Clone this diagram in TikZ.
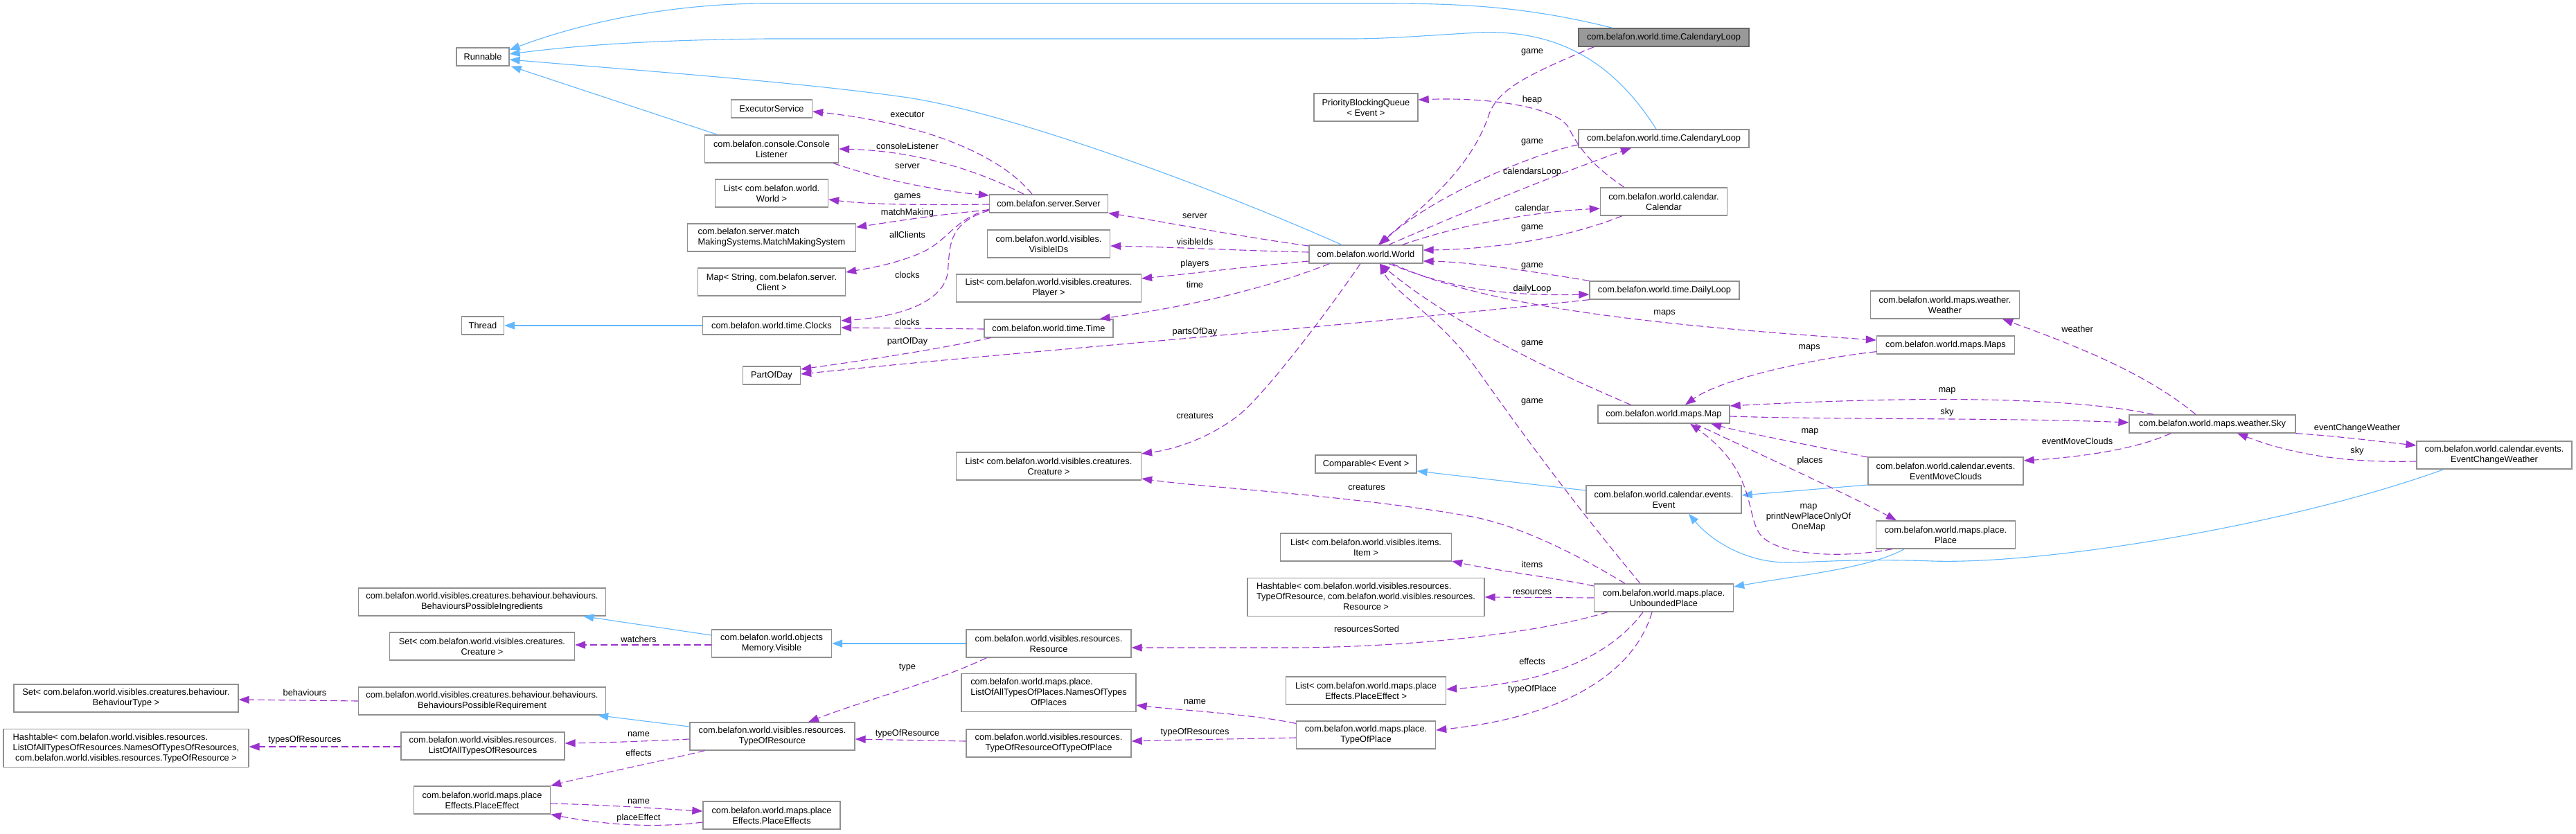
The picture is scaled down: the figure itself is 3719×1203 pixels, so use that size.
\documentclass[tikz,border=0pt]{standalone}
\usepackage{fontspec}
\setmainfont{Liberation Sans}
\usetikzlibrary{arrows.meta,calc}
\definecolor{eblue}{HTML}{63B8FF}
\definecolor{epurple}{HTML}{9A32CD}
\definecolor{bgray}{HTML}{909090}
\definecolor{fgray}{HTML}{999999}
\definecolor{dgray}{HTML}{666666}
\begin{document}
\begin{tikzpicture}[x=1pt,y=-1pt,
  font=\fontsize{12.8}{15}\selectfont,
  cls/.style={draw=bgray, line width=1.3pt, fill=white, inner sep=0pt, align=center, minimum height=26pt},
  two/.style={minimum height=40pt},
  three/.style={minimum height=55pt},
  inh/.style={draw=eblue, line width=1.1pt, -{Triangle[length=15pt,width=11pt]}},
  use/.style={draw=epurple, line width=1.1pt, dash pattern=on 10pt off 5pt, -{Triangle[length=15pt,width=11pt]}},
  lbl/.style={inner sep=0pt, align=center}
]
\fill[white] (0,0) rectangle (3719,1203);
\useasboundingbox (0,0) rectangle (3719,1203);

% ---------- classes ----------
\node[cls,minimum width=76pt] (runnable) at (697,82) {Runnable};
\node[cls,minimum width=61pt] (thread) at (697,470) {Thread};
\node[cls,minimum width=117pt] (executor) at (1114,157) {ExecutorService};
\node[cls,two,minimum width=193pt] (console) at (1114,215) {com.belafon.console.Console\\Listener};
\node[cls,two,minimum width=163pt] (listworld) at (1114,279) {List< com.belafon.world.\\World >};
\node[cls,two,minimum width=243pt] (matchmaking) at (1114,343) {\begin{tabular}{@{}l@{}}com.belafon.server.match\\MakingSystems.MatchMakingSystem\end{tabular}};
\node[cls,two,minimum width=213pt] (mapclient) at (1114,407) {Map< String, com.belafon.server.\\Client >};
\node[cls,minimum width=199pt] (clocks) at (1114,470) {com.belafon.world.time.Clocks};
\node[cls,minimum width=83pt] (partofday) at (1114,542) {PartOfDay};
\node[cls,minimum width=171pt] (server) at (1514,294) {com.belafon.server.Server};
\node[cls,two,minimum width=177pt] (visibleids) at (1514,352) {com.belafon.world.visibles.\\VisibleIDs};
\node[cls,two,minimum width=267pt] (listplayer) at (1514,416) {List< com.belafon.world.visibles.creatures.\\Player >};
\node[cls,minimum width=186pt] (time) at (1514,474) {com.belafon.world.time.Time};
\node[cls,two,minimum width=150pt] (pbq) at (1972,155) {PriorityBlockingQueue\\< Event >};
\node[cls,minimum width=164pt] (world) at (1972,367) {com.belafon.world.World};
\node[cls,two,minimum width=267pt] (listcreature) at (1514,673) {List< com.belafon.world.visibles.creatures.\\Creature >};
\node[cls,minimum width=146pt] (comparable) at (1972,670) {Comparable< Event >};
\node[cls,two,minimum width=247pt] (listitem) at (1972,790) {List< com.belafon.world.visibles.items.\\Item >};
\node[cls,three,minimum width=342pt] (hashres) at (1972,862) {\begin{tabular}{@{}l@{}}Hashtable< com.belafon.world.visibles.resources.\\TypeOfResource, com.belafon.world.visibles.resources.\\\multicolumn{1}{@{}c@{}}{Resource >}\end{tabular}};
\node[cls,two,minimum width=231pt] (listeffect) at (1972,997) {List< com.belafon.world.maps.place\\Effects.PlaceEffect >};
\node[cls,two,minimum width=201pt] (typeofplace) at (1972,1061) {com.belafon.world.maps.place.\\TypeOfPlace};
\node[cls,minimum width=246pt,fill=fgray,draw=dgray] (calloopA) at (2402,54) {com.belafon.world.time.CalendaryLoop};
\node[cls,minimum width=246pt] (calloopB) at (2402,200) {com.belafon.world.time.CalendaryLoop};
\node[cls,two,minimum width=183pt] (calendar) at (2402,291) {com.belafon.world.calendar.\\Calendar};
\node[cls,minimum width=216pt] (dailyloop) at (2403,419) {com.belafon.world.time.DailyLoop};
\node[cls,minimum width=190pt] (map) at (2402,598) {com.belafon.world.maps.Map};
\node[cls,two,minimum width=224pt] (event) at (2402,721) {com.belafon.world.calendar.events.\\Event};
\node[cls,two,minimum width=201pt] (unbounded) at (2402,863) {com.belafon.world.maps.place.\\UnboundedPlace};
\node[cls,two,minimum width=215pt] (weather) at (2808,440) {com.belafon.world.maps.weather.\\Weather};
\node[cls,minimum width=199pt] (maps) at (2809,498) {com.belafon.world.maps.Maps};
\node[cls,two,minimum width=224pt] (movecloud) at (2809,680) {com.belafon.world.calendar.events.\\EventMoveClouds};
\node[cls,two,minimum width=201pt] (place) at (2809,772) {com.belafon.world.maps.place.\\Place};
\node[cls,minimum width=240pt] (sky) at (3194,612) {com.belafon.world.maps.weather.Sky};
\node[cls,two,minimum width=224pt] (changeweather) at (3601,657) {com.belafon.world.calendar.events.\\EventChangeWeather};
\node[cls,two,minimum width=357pt] (ingredients) at (696,869) {com.belafon.world.visibles.creatures.behaviour.behaviours.\\BehavioursPossibleIngredients};
\node[cls,two,minimum width=267pt] (setcreature) at (696,933) {Set< com.belafon.world.visibles.creatures.\\Creature >};
\node[cls,two,minimum width=324pt] (setbehaviour) at (182,1008) {Set< com.belafon.world.visibles.creatures.behaviour.\\BehaviourType >};
\node[cls,two,minimum width=357pt] (requirement) at (696,1012) {com.belafon.world.visibles.creatures.behaviour.behaviours.\\BehavioursPossibleRequirement};
\node[cls,three,minimum width=354pt] (hashlist) at (182,1080) {\begin{tabular}{@{}l@{}}Hashtable< com.belafon.world.visibles.resources.\\ListOfAllTypesOfResources.NamesOfTypesOfResources,\\\multicolumn{1}{@{}c@{}}{com.belafon.world.visibles.resources.TypeOfResource >}\end{tabular}};
\node[cls,two,minimum width=236pt] (listalltypes) at (697,1077) {com.belafon.world.visibles.resources.\\ListOfAllTypesOfResources};
\node[cls,two,minimum width=197pt] (placeeffect) at (696,1155) {com.belafon.world.maps.place\\Effects.PlaceEffect};
\node[cls,two,minimum width=173pt] (visible) at (1114,929) {com.belafon.world.objects\\Memory.Visible};
\node[cls,two,minimum width=238pt] (typeofresource) at (1115,1063) {com.belafon.world.visibles.resources.\\TypeOfResource};
\node[cls,two,minimum width=198pt] (placeeffects) at (1114,1177) {com.belafon.world.maps.place\\Effects.PlaceEffects};
\node[cls,two,minimum width=238pt] (resource) at (1514,929) {com.belafon.world.visibles.resources.\\Resource};
\node[cls,three,minimum width=252pt] (namesplaces) at (1514,1000) {\begin{tabular}{@{}l@{}}com.belafon.world.maps.place.\\ListOfAllTypesOfPlaces.NamesOfTypes\\\multicolumn{1}{@{}c@{}}{OfPlaces}\end{tabular}};
\node[cls,two,minimum width=238pt] (toftop) at (1514,1073) {com.belafon.world.visibles.resources.\\TypeOfResourceOfTypeOfPlace};

% ---------- inheritance ----------
\draw[inh] ($(calloopA.north)+(-74,0)$) .. controls (2200,8) and (2100,5) .. (1996,5) -- (1108,5) .. controls (950,5) and (820,40) .. ($(runnable.east)+(0,-10)$);
\draw[inh] ($(calloopB.north)+(-11,0)$) .. controls (2330,90) and (2250,42) .. (2133,47) .. controls (2050,52) and (2000,56) .. (1950,56) -- (1108,56) .. controls (900,58) and (800,70) .. ($(runnable.east)+(0,-4)$);
\draw[inh] ($(world.north)+(-35,0)$) .. controls (1750,270) and (1450,160) .. (1304,140) .. controls (1150,118) and (900,100) .. ($(runnable.east)+(0,4)$);
\draw[inh] ($(console.north west)+(19,0)$) -- ($(runnable.south east)+(2,0)$);
\draw[inh] (clocks.west) -- (thread.east);
\draw[inh] ($(event.west)+(0,-13)$) -- ($(comparable.east)+(0,10)$);
\draw[inh] ($(movecloud.west)+(0,20)$) -- ($(event.east)+(0,-6)$);
\draw[inh] ($(changeweather.south)+(-73,0)$) .. controls (3300,760) and (2950,815) .. (2790,810) .. controls (2680,806) and (2620,812) .. (2580,812) .. controls (2520,812) and (2470,780) .. ($(event.south)+(36,0)$);
\draw[inh] ($(place.south)+(-60,0)$) .. controls (2700,820) and (2600,830) .. ($(unbounded.east)+(0,-16)$);
\draw[inh] ($(visible.west)+(0,-12)$) -- ($(ingredients.south east)+(-33,0)$);
\draw[inh] (resource.west) -- (visible.east);
\draw[inh] ($(typeofresource.west)+(0,-14)$) -- ($(requirement.south east)+(-12,0)$);

% ---------- usage ----------
\draw[use] ($(server.north)+(-24,0)$) .. controls (1450,230) and (1350,180) .. ($(executor.east)+(0,4)$);
\draw[use] ($(server.north)+(-36,0)$) .. controls (1420,250) and (1330,218) .. (console.east);
\draw[use] ($(console.south east)+(-8,0)$) .. controls (1280,262) and (1360,276) .. ($(server.west)+(0,-12)$);
\draw[use] ($(server.west)+(0,1)$) .. controls (1350,296) and (1260,296) .. ($(listworld.east)+(0,9)$);
\draw[use] ($(server.west)+(0,9)$) .. controls (1350,310) and (1290,320) .. ($(matchmaking.east)+(0,-15)$);
\draw[use] ($(server.west)+(0,8)$) .. controls (1375,318) and (1372,345) .. (1330,365) .. controls (1290,382) and (1250,388) .. ($(mapclient.east)+(0,-14)$);
\draw[use] ($(server.west)+(0,10)$) .. controls (1365,322) and (1372,360) .. (1368,395) .. controls (1360,440) and (1290,458) .. ($(clocks.east)+(0,-7)$);
\draw[use] ($(time.west)+(0,1)$) -- ($(clocks.east)+(0,3)$);
\draw[use] ($(time.south west)+(10,0)$) .. controls (1350,505) and (1250,520) .. ($(partofday.east)+(0,-9)$);
\draw[use] (dailyloop.south west) .. controls (1900,475) and (1500,505) .. ($(partofday.east)+(0,-2)$);
\draw[use] ($(world.west)+(0,-12)$) .. controls (1780,340) and (1680,320) .. (server.south east);
\draw[use] ($(world.west)+(0,-3)$) .. controls (1800,362) and (1700,357) .. ($(visibleids.east)+(0,3)$);
\draw[use] ($(world.west)+(0,10)$) .. controls (1800,385) and (1720,395) .. ($(listplayer.east)+(0,-14)$);
\draw[use] ($(world.south west)+(30,0)$) .. controls (1820,420) and (1700,445) .. ($(time.north east)+(-20,0)$);
\draw[use] ($(world.south)+(-8,0)$) .. controls (1920,445) and (1830,565) .. (1790,598) .. controls (1750,630) and (1700,648) .. ($(listcreature.east)+(0,-18)$);
\draw[use] ($(calloopA.south west)+(23,0)$) .. controls (2200,110) and (2160,130) .. (2148,170) .. controls (2120,250) and (2040,310) .. ($(world.north)+(18,0)$);
\draw[use] ($(calloopB.west)+(0,9)$) .. controls (2200,225) and (2060,290) .. ($(world.north)+(20,0)$);
\draw[use] ($(world.north)+(33,0)$) .. controls (2150,290) and (2280,240) .. ($(calloopB.south)+(-47,0)$);
\draw[use] ($(calendar.north west)+(35,0)$) .. controls (2300,240) and (2280,215) .. (2265,185) .. controls (2250,155) and (2150,140) .. ($(pbq.east)+(0,-11)$);
\draw[use] ($(world.north east)+(-30,0)$) .. controls (2120,320) and (2230,305) .. ($(calendar.west)+(0,10)$);
\draw[use] ($(calendar.south west)+(32,0)$) .. controls (2260,345) and (2150,360) .. ($(world.east)+(0,-6)$);
\draw[use] (dailyloop.north west) .. controls (2200,390) and (2120,378) .. ($(world.east)+(0,10)$);
\draw[use] ($(world.south)+(33,0)$) .. controls (2080,410) and (2150,428) .. ($(dailyloop.west)+(0,6)$);
\draw[use] ($(world.south)+(38,0)$) .. controls (2150,445) and (2400,470) .. ($(maps.west)+(0,-7)$);
\draw[use] ($(maps.south west)+(0,-4)$) .. controls (2600,520) and (2480,550) .. ($(map.north)+(31,0)$);
\draw[use] ($(map.north west)+(48,0)$) .. controls (2250,540) and (2100,470) .. ($(world.south)+(20,0)$);
\draw[use] ($(unbounded.north)+(-34,0)$) .. controls (2250,700) and (2180,600) .. (2130,530) .. controls (2080,460) and (2010,420) .. ($(world.south)+(20,0)$);
\draw[use] ($(unbounded.north)+(-56,0)$) .. controls (2260,790) and (2180,755) .. (2120,745) .. controls (1950,715) and (1750,705) .. ($(listcreature.east)+(0,18)$);
\draw[use] ($(unbounded.west)+(0,-17)$) .. controls (2250,835) and (2150,822) .. ($(listitem.east)+(0,20)$);
\draw[use] (unbounded.west) -- (hashres.east);
\draw[use] ($(unbounded.south west)+(20,0)$) .. controls (2200,920) and (2000,935) .. (1860,935) -- ($(resource.east)+(0,6)$);
\draw[use] ($(unbounded.south)+(-30,0)$) .. controls (2330,940) and (2250,985) .. ($(listeffect.east)+(0,-2)$);
\draw[use] ($(unbounded.south)+(-17,0)$) .. controls (2360,970) and (2260,1035) .. ($(typeofplace.east)+(0,-7)$);
\draw[use] ($(sky.north)+(-24,0)$) .. controls (3100,540) and (3000,500) .. ($(weather.south)+(83,0)$);
\draw[use] ($(sky.north west)+(36,0)$) .. controls (3000,575) and (2800,570) .. ($(map.east)+(0,-12)$);
\draw[use] ($(map.east)+(0,3)$) .. controls (2650,606) and (2900,603) .. ($(sky.west)+(0,-2)$);
\draw[use] ($(sky.south)+(-60,0)$) .. controls (3080,650) and (3000,660) .. ($(movecloud.east)+(0,-15)$);
\draw[use] (sky.south east) .. controls (3380,630) and (3440,638) .. ($(changeweather.west)+(0,-14)$);
\draw[use] ($(changeweather.west)+(0,9)$) .. controls (3400,668) and (3320,660) .. ($(sky.south)+(36,0)$);
\draw[use] ($(movecloud.west)+(0,-20)$) .. controls (2600,640) and (2520,625) .. ($(map.south)+(68,0)$);
\draw[use] ($(map.south)+(45,0)$) .. controls (2550,660) and (2680,720) .. ($(place.north)+(-71,0)$);
\draw[use] ($(place.south west)+(24,0)$) .. controls (2650,808) and (2560,800) .. (2540,770) .. controls (2520,740) and (2535,680) .. ($(map.south)+(38,0)$);
\draw[use] ($(visible.west)+(0,2)$) -- ($(setcreature.east)+(0,-2)$);
\draw[use] ($(resource.south west)+(30,0)$) .. controls (1350,985) and (1250,1010) .. ($(typeofresource.north)+(52,0)$);
\draw[use] (requirement.west) -- ($(setbehaviour.east)+(0,2)$);
\draw[use] ($(typeofresource.west)+(0,4)$) .. controls (930,1070) and (880,1072) .. ($(listalltypes.east)+(0,-4)$);
\draw[use] ($(listalltypes.west)+(0,1)$) -- ($(hashlist.east)+(0,-2)$);
\draw[use] ($(typeofresource.south west)+(22,0)$) .. controls (950,1100) and (850,1120) .. (placeeffect.north east);
\draw[use] ($(placeeffect.east)+(0,5)$) .. controls (880,1162) and (960,1168) .. ($(placeeffects.west)+(0,-6)$);
\draw[use] ($(placeeffects.west)+(0,10)$) .. controls (950,1195) and (880,1192) .. (placeeffect.south east);
\draw[use] ($(toftop.west)+(0,-3)$) -- ($(typeofresource.east)+(0,4)$);
\draw[use] ($(typeofplace.north west)+(0,4)$) .. controls (1800,1030) and (1700,1025) .. ($(namesplaces.east)+(0,18)$);
\draw[use] ($(typeofplace.west)+(0,4)$) .. controls (1780,1067) and (1700,1068) .. ($(toftop.east)+(0,-3)$);

% ---------- labels ----------
\node[lbl] (L1) at (1310,165) {executor};
\node[lbl] (L2) at (1310,211) {consoleListener};
\node[lbl] (L3) at (1310,240) {server};
\node[lbl] (L4) at (1310,284) {games};
\node[lbl] (L5) at (1310,307) {matchMaking};
\node[lbl] (L6) at (1310,339) {allClients};
\node[lbl] (L7) at (1310,397) {clocks};
\node[lbl] (L8) at (1310,465) {clocks};
\node[lbl] (L9) at (1310,493) {partOfDay};
\node[lbl] (L10) at (1725,312) {server};
\node[lbl] (L11) at (1725,349) {visibleIds};
\node[lbl] (L12) at (1725,381) {players};
\node[lbl] (L13) at (1725,411) {time};
\node[lbl] (L14) at (1725,479) {partsOfDay};
\node[lbl] (L15) at (1725,600) {creatures};
\node[lbl] (L16) at (2212,75) {game};
\node[lbl] (L17) at (2212,144) {heap};
\node[lbl] (L18) at (2212,205) {game};
\node[lbl] (L19) at (2212,248) {calendarsLoop};
\node[lbl] (L20) at (2212,300) {calendar};
\node[lbl] (L21) at (2212,329) {game};
\node[lbl] (L22) at (2212,384) {game};
\node[lbl] (L23) at (2212,417) {dailyLoop};
\node[lbl] (L24) at (2403,452) {maps};
\node[lbl] (L25) at (2212,496) {game};
\node[lbl] (L26) at (2612,502) {maps};
\node[lbl] (L27) at (2212,580) {game};
\node[lbl] (L28) at (2999,475) {weather};
\node[lbl] (L29) at (2811,564) {map};
\node[lbl] (L30) at (2811,595) {sky};
\node[lbl] (L31) at (2999,637) {eventMoveClouds};
\node[lbl] (L32) at (3403,618) {eventChangeWeather};
\node[lbl] (L33) at (3403,651) {sky};
\node[lbl] (L34) at (2613,623) {map};
\node[lbl] (L35) at (2613,665) {places};
\node[lbl] (L36) at (1973,703) {creatures};
\node[lbl] (L37) at (2611,747) {map\\printNewPlaceOnlyOf\\OneMap};
\node[lbl] (L38) at (2212,815) {items};
\node[lbl] (L39) at (2212,855) {resources};
\node[lbl] (L40) at (1973,908) {resourcesSorted};
\node[lbl] (L41) at (2212,955) {effects};
\node[lbl] (L42) at (2212,995) {typeOfPlace};
\node[lbl] (L43) at (1310,964) {type};
\node[lbl] (L44) at (1725,1013) {name};
\node[lbl] (L45) at (1310,1059) {typeOfResource};
\node[lbl] (L46) at (1725,1057) {typeOfResources};
\node[lbl] (L47) at (922,923) {watchers};
\node[lbl] (L48) at (440,1000) {behaviours};
\node[lbl] (L49) at (440,1068) {typesOfResources};
\node[lbl] (L50) at (922,1060) {name};
\node[lbl] (L51) at (922,1087) {effects};
\node[lbl] (L52) at (922,1157) {name};
\node[lbl] (L53) at (922,1181) {placeEffect};
\end{tikzpicture}
\end{document}
